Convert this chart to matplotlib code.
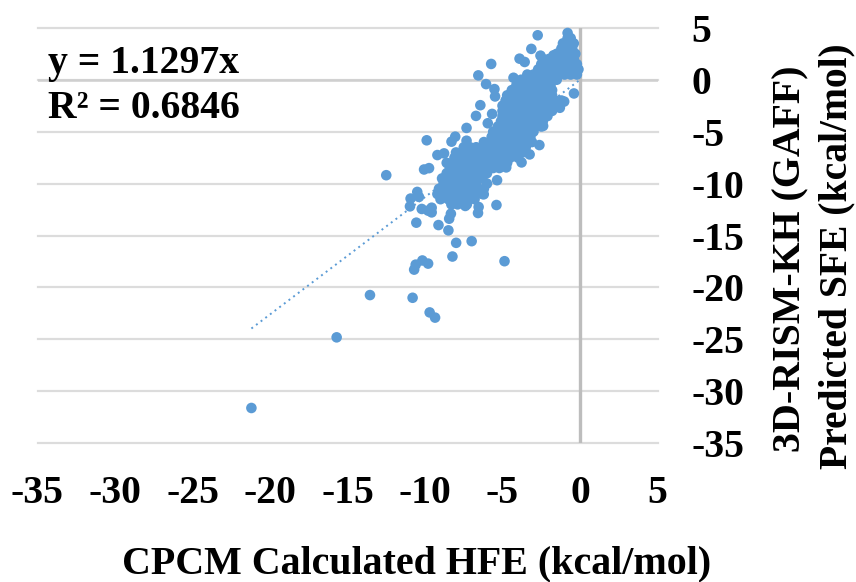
import numpy as np
import matplotlib
matplotlib.use('Agg')
import matplotlib.pyplot as plt

plt.rcParams['font.family'] = ['Liberation Serif', 'DejaVu Serif']
plt.rcParams['font.weight'] = 'bold'

# loose points
outlier_x = [-2.73, -0.8, -3.14, -1.71, -5.73, -3.9, -3.57, -2.55, -6.56, -6.06, -5.52, -5.48,
             -4.29, -6.43, -6.71, -5.67, -7.32, -5.95, -9.89, -8.05, -8.29, -7.32, -9.2, -8.77,
             -10.06, -9.74, -12.5, -2.62, -3.25, -3.77, -4.76, -5.35, -0.39, -1.3, -1.02, -2.38,
             -10.5, -10.93, -10.39, -10.97, -10.21, -9.57, -9.57, -9.8, -10.56, -9.13, -8.49,
             -8.44, -8.33, -7.99, -6.99, -8.23, -10.17, -4.87, -5.39, -6.54, -6.58, -7.4, -6.21,
             -21.2, -15.7, -13.55, -10.8, -9.7, -9.35, -10.7, -10.6, -9.8]
outlier_y = [4.28, 4.5, 2.97, 2.35, 1.52, 2.03, 1.71, 2.32, 0.42, -0.42, -0.9, -1.61,
             0.19, -2.45, -3.48, -3.29, -4.64, -4.19, -5.83, -5.48, -5.96, -5.87, -7.25, -7.09,
             -8.64, -8.51, -9.19, -6.29, -7.19, -7.96, -8.44, -9.67, -1.32, -2.7, -2.1, -4.45,
             -10.8, -11.44, -11.28, -12.19, -12.44, -12.32, -12.77, -12.6, -13.76, -13.99, -14.5,
             -13.38, -12.9, -15.7, -15.54, -17.02, -17.4, -17.47, -12.06, -12.25, -12.83, -12.15, -11.03,
             -31.6, -24.8, -20.73, -20.99, -22.4, -22.9, -18.28, -17.8, -17.7]

# the solid cloud, estimated row by row
cloud_y = [4.0, 3.5, 3.0, 2.5, 2.0, 1.5, 1.0, 0.5, 0.0, -0.5, -1.0, -1.5, -2.0, -2.5, -3.0, -3.5, -4.0,
           -4.5, -5.0, -5.5, -6.0, -6.5, -7.0, -7.5, -8.0, -8.5, -9.0, -9.5, -10.0, -10.5, -11.0, -11.5, -12.0]
cloud_x = [
    [-0.8, -0.6],
    [-1.1, -0.8, -0.4],
    [-1.2, -0.8, -0.5],
    [-1.5, -1.1, -0.7, -0.3],
    [-2.4, -2.0, -1.6, -1.2, -0.8, -0.4],
    [-2.5, -2.1, -1.7, -1.3, -0.9, -0.5, -0.2],
    [-2.7, -2.3, -1.9, -1.5, -1.1, -0.7, -0.3, -0.1],
    [-3.4, -3.0, -2.6, -2.2, -1.8, -1.4, -1.0, -0.6, -0.2],
    [-3.8, -3.4, -3.0, -2.6, -2.2, -1.8, -1.5],
    [-4.1, -3.7, -3.3, -2.9, -2.5, -2.1, -1.9],
    [-4.4, -4.0, -3.6, -3.2, -2.8, -2.4, -2.0, -1.8],
    [-4.7, -4.3, -3.9, -3.5, -3.1, -2.7, -2.3, -1.8],
    [-4.8, -4.4, -4.0, -3.6, -3.2, -2.8, -2.4, -2.0, -1.6, -1.2],
    [-5.0, -4.6, -4.2, -3.8, -3.4, -3.0, -2.6, -2.2, -1.8, -1.3],
    [-5.0, -4.6, -4.2, -3.8, -3.4, -3.0, -2.6, -2.2, -1.8],
    [-5.0, -4.6, -4.2, -3.8, -3.4, -3.0, -2.6, -2.1],
    [-5.1, -4.7, -4.3, -3.9, -3.5, -3.1, -2.7, -2.4],
    [-5.3, -4.9, -4.5, -4.1, -3.7, -3.3, -2.9, -2.5],
    [-5.6, -5.2, -4.8, -4.4, -4.0, -3.6, -3.2, -3.0],
    [-5.7, -5.3, -4.9, -4.5, -4.1, -3.7, -3.2],
    [-6.2, -5.8, -5.4, -5.0, -4.6, -4.2, -3.8, -3.4, -3.1],
    [-7.5, -7.1, -6.7, -6.3, -5.9, -5.5, -5.1, -4.7, -4.3, -3.9, -3.5],
    [-8.0, -7.6, -7.2, -6.8, -6.4, -6.0, -5.6, -5.2, -4.8, -4.4, -4.0, -3.7],
    [-8.1, -7.7, -7.3, -6.9, -6.5, -6.1, -5.7, -5.3, -4.9, -4.5, -4.0],
    [-8.6, -8.2, -7.8, -7.4, -7.0, -6.6, -6.2, -5.8, -5.4, -5.0, -4.7],
    [-8.4, -8.0, -7.6, -7.2, -6.8, -6.4, -6.0, -5.6, -5.2],
    [-8.6, -8.2, -7.8, -7.4, -7.0, -6.6, -6.0],
    [-8.9, -8.5, -8.1, -7.7, -7.3, -6.9, -6.3],
    [-8.8, -8.4, -7.9, -7.5, -7.1, -6.7, -6.0],
    [-9.1, -8.7, -8.2, -7.6, -7.2, -6.8, -6.2],
    [-9.2, -8.8, -8.3, -7.8, -7.2, -6.7, -6.3],
    [-9.0, -8.5, -7.9, -7.4, -6.8],
    [-8.3, -7.9, -7.3],
]

trend_x = [-21.2, 0.0]
slope = 1.1297
x_ticks = [-35, -30, -25, -20, -15, -10, -5, 0, 5]
y_ticks = [-35, -30, -25, -20, -15, -10, -5, 0, 5]

W, H = 856, 582
fig = plt.figure(figsize=(W / 100, H / 100), dpi=100)
ax = fig.add_axes([37.5 / W, (H - 443.3) / H, 620 / W, 415.5 / H])
ax.set_xlim(-35, 5)
ax.set_ylim(-35, 5)
for s in ax.spines.values():
    s.set_visible(False)

ax.set_xticks(x_ticks)
ax.set_yticks(y_ticks)
ax.set_xticklabels([str(v) for v in x_ticks], fontsize=28.5, fontweight='bold')
ax.set_yticklabels([str(v) for v in y_ticks], fontsize=28.5, fontweight='bold', ha='left')
ax.yaxis.tick_right()
ax.tick_params(axis='y', length=0, pad=24.5)
ax.tick_params(axis='x', length=0, pad=22.5)
ax.grid(axis='y', color='#dcdcdc', lw=1.6, zorder=1)
for g in ax.get_ygridlines():
    g.set_clip_on(False)
ax.set_axisbelow(True)
ax.axhline(0, color='#cfcfcf', lw=1.8, zorder=1)
ax.axvline(0, color='#bdbdbd', lw=2.4, zorder=1.5)

dot = '#5b9bd5'
xs = list(outlier_x)
ys = list(outlier_y)
for yv, row in zip(cloud_y, cloud_x):
    xs += row
    ys += [yv] * len(row)
ax.scatter(xs, ys, s=58, color=dot, edgecolors='none', zorder=3, clip_on=False)
ax.plot(trend_x, [slope * v for v in trend_x], color=dot, lw=1.4, ls=(0, (1, 2)), zorder=2)

fig.text(48 / W, 1 - 73 / H, 'y = 1.1297x', fontsize=28.5, fontweight='bold', va='baseline')
fig.text(48 / W, 1 - 118 / H, 'R² = 0.6846', fontsize=28.5, fontweight='bold', va='baseline')
fig.text(417 / W, 1 - 573 / H, 'CPCM Calculated HFE (kcal/mol)', fontsize=28.8, fontweight='bold',
         ha='center', va='baseline')
fig.text(800 / W, 1 - 258.5 / H, '3D-RISM-KH (GAFF)', fontsize=28.7, fontweight='bold',
         rotation=90, ha='center', va='baseline', rotation_mode='anchor')
fig.text(846 / W, 1 - 256.5 / H, 'Predicted SFE (kcal/mol)', fontsize=28.5, fontweight='bold',
         rotation=90, ha='center', va='baseline', rotation_mode='anchor')

fig.savefig('out.png', dpi=100)
